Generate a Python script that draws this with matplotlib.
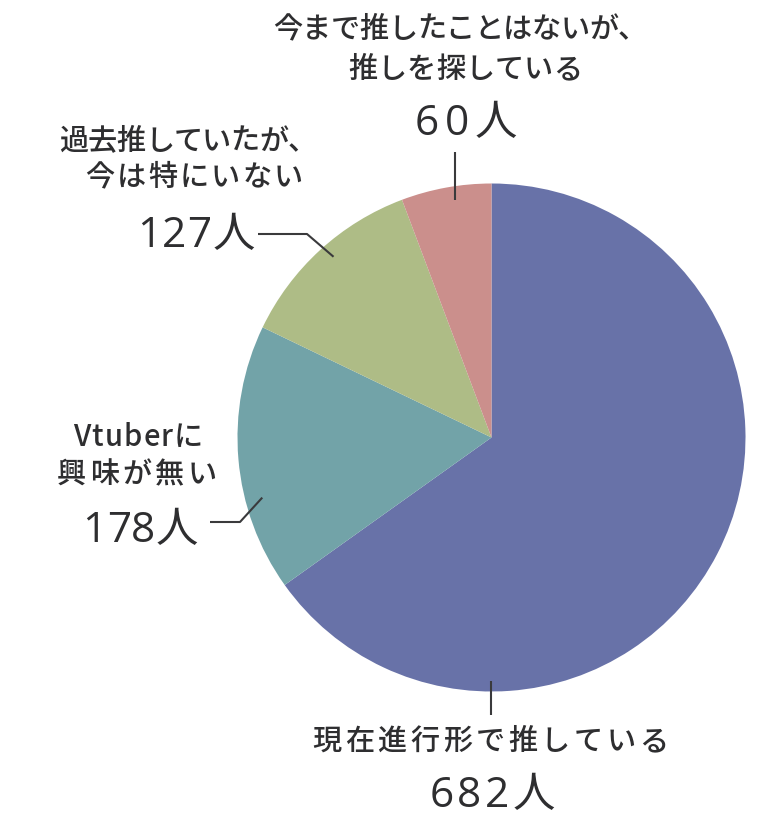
import numpy as np
import matplotlib.pyplot as plt

plt.rcParams['font.family'] = ['Noto Sans CJK JP', 'DejaVu Sans']

labels = ['現在進行形で推している',
          'Vtuberに\n興味が無い',
          '過去推していたが、\n今は特にいない',
          '今まで推したことはないが、\n推しを探している']
counts = [682, 178, 127, 60]
colors = ['#6872a8', '#72a3a8', '#aebc86', '#cb8f8c']

# layout (pixels, y down): centre x, baseline y, ink width for each text line
label_pos = [[(490, 750, 356)],
             [(138, 446, 130), (137, 483, 160)],
             [(188, 150, 257), (194, 186, 218)],
             [(460, 38, 374), (465, 78, 234)]]
count_pos = [(492, 807, 125), (140, 542, 115), (196, 247, 118), (466, 135, 102)]
# where the leader touches the wedge (fraction along wedge, fraction of radius)
anchor = [(0.768, 0.96), (0.34, 0.933), (0.53, 0.945), (0.58, 0.945)]
# outer leader points
leader = [[('x', 715)], [(240, 522), (210, 522)], [(307, 234), (258, 234)], [('x', 152)]]

W, H = 780, 824
cx, cy, R = 491.5, 437.5, 254
TXT = '#2e2e30'

fig = plt.figure(figsize=(W / 100, H / 100), dpi=100)
ax = fig.add_axes([0, 0, 1, 1])

# y axis runs downward, so counterclock here looks clockwise on screen
ax.pie(counts, colors=colors, startangle=-90, counterclock=True,
       center=(cx, cy), radius=R, wedgeprops=dict(linewidth=0))
ax.set_xlim(0, W)
ax.set_ylim(H, 0)
ax.set_aspect('auto')
ax.axis('off')

renderer = fig.canvas.get_renderer()


def spaced(x, y, s, size, width, weight='medium', family=None):
    # draw s centred on x, baseline y, spread to the given ink width
    kw = dict(fontsize=size, fontweight=weight)
    if family:
        kw['family'] = family
    ws = []
    for ch in s:
        t = ax.text(0, 0, ch, **kw)
        ws.append(t.get_window_extent(renderer).width)
        t.remove()
    gap = (width - sum(ws)) / max(len(s) - 1, 1)
    left = x - width / 2
    for ch, w in zip(s, ws):
        ax.text(left, y, ch, color=TXT, ha='left', va='baseline', **kw)
        left += w + gap


total = sum(counts)
start = -90.0
for i, v in enumerate(counts):
    span = 360.0 * v / total
    frac, rf = anchor[i]
    a = np.deg2rad(start + span * frac)
    ax_, ay_ = cx + R * rf * np.cos(a), cy + R * rf * np.sin(a)
    xs, ys = [ax_], [ay_]
    for px, py in leader[i]:
        xs.append(ax_ if px == 'x' else px)
        ys.append(py)
    ax.plot(xs, ys, color='#3a3a3c', lw=1.5, solid_capstyle='butt')
    start += span

    for line, (lx, ly, lw) in zip(labels[i].split('\n'), label_pos[i]):
        spaced(lx, ly, line, 21, lw)
    nx, ny, nw = count_pos[i]
    spaced(nx, ny, f'{v}人', 30.5, nw, weight='normal',
           family=['Open Sans', 'Noto Sans CJK JP'])

fig.savefig('out.png', dpi=100, facecolor='white')
